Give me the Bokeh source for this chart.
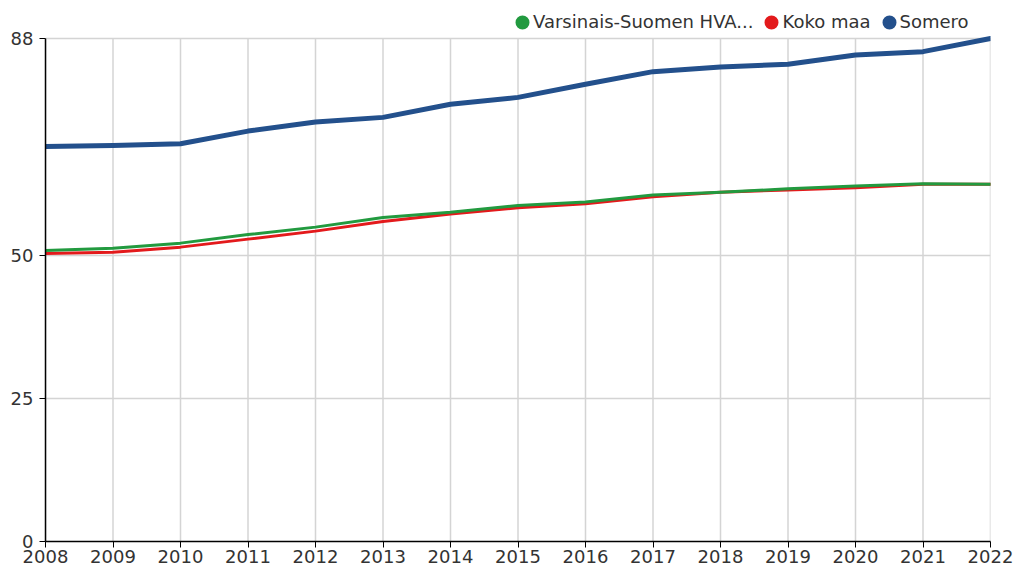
from bokeh.plotting import figure
from bokeh.models import Legend, LegendItem, FixedTicker, Range1d, ColumnDataSource
from bokeh.embed import file_html
from bokeh.resources import INLINE

years = list(range(2008, 2023))
somero = [69.1, 69.3, 69.6, 71.8, 73.4, 74.2, 76.5, 77.7, 80.0, 82.2, 83.0, 83.5, 85.1, 85.7, 88.0]
varsinais = [50.9, 51.3, 52.2, 53.7, 55.0, 56.7, 57.6, 58.8, 59.4, 60.6, 61.1, 61.7, 62.2, 62.6, 62.5]
koko_maa = [50.4, 50.6, 51.5, 52.9, 54.3, 56.0, 57.3, 58.4, 59.1, 60.3, 61.1, 61.5, 61.9, 62.5, 62.5]
y_ticks = [0, 25, 50, 88]
names = ["Varsinais-Suomen HVA...", "Koko maa", "Somero"]
colors = ["#229a3f", "#e31a1c", "#23508c"]
widths = [3, 3, 5]
series = [varsinais, koko_maa, somero]

FONT = "DejaVu Sans"
GRID = "#d4d4d4"

W, H = 1017, 570
BL, BR, BT, BB = 45, 27, 0, 29
frame_h = H - BT - BB            # 541 px
axis_top_px = 38                 # where the top tick (88) sits
y_top = max(y_ticks)
y_end = y_top * frame_h / (frame_h - axis_top_px)   # room above the axis for the legend

p = figure(width=W, height=H, output_backend="svg", toolbar_location=None,
           x_range=Range1d(years[0], years[-1]), y_range=Range1d(0, y_end),
           min_border_left=BL, min_border_right=BR, min_border_top=BT, min_border_bottom=BB)
p.outline_line_color = None
p.background_fill_color = "white"

# vertical grid lines, limited to the axis extent
p.segment(x0=years, y0=[0] * len(years), x1=years, y1=[y_top] * len(years),
          line_color=GRID, line_width=1.5)

renderers = {}
for i in [1, 0, 2]:
    src = ColumnDataSource(dict(x=years, y=series[i]))
    p.line("x", "y", source=src, line_color=colors[i], line_width=widths[i],
           line_join="round", line_cap="round")
    # legend proxy (no visible point)
    renderers[i] = p.scatter(x=[years[0]], y=[float("nan")], marker="circle",
                             fill_color=colors[i], line_color=colors[i], line_width=6)

items = [LegendItem(label=names[i], renderers=[renderers[i]]) for i in range(3)]
legend = Legend(items=items, orientation="horizontal",
                location=(467, frame_h - 22 - 10),
                spacing=8, padding=0, margin=0, glyph_width=20, glyph_height=20,
                label_standoff=1, label_text_font=FONT, label_text_font_size="18px",
                label_height=20, label_text_color="#333333", border_line_color=None,
                background_fill_alpha=0)
p.add_layout(legend)

p.xaxis.ticker = FixedTicker(ticks=years)
p.yaxis.ticker = FixedTicker(ticks=y_ticks)
p.yaxis.bounds = (0, y_top)
for ax in (p.xaxis, p.yaxis):
    ax.axis_line_color = "black"
    ax.axis_line_width = 1.5
    ax.major_tick_line_color = "black"
    ax.minor_tick_line_color = None
    ax.major_tick_in = 0
    ax.major_tick_out = 6
    ax.major_label_text_font = FONT
    ax.major_label_text_font_size = "18px"
    ax.major_label_text_color = "#333333"
p.xaxis.major_label_standoff = 2
p.yaxis.major_label_standoff = 6

p.xgrid.visible = False
p.ygrid.ticker = FixedTicker(ticks=y_ticks)
p.ygrid.grid_line_color = GRID
p.ygrid.grid_line_width = 1.5

open("out.html", "w").write(file_html(p, INLINE))
